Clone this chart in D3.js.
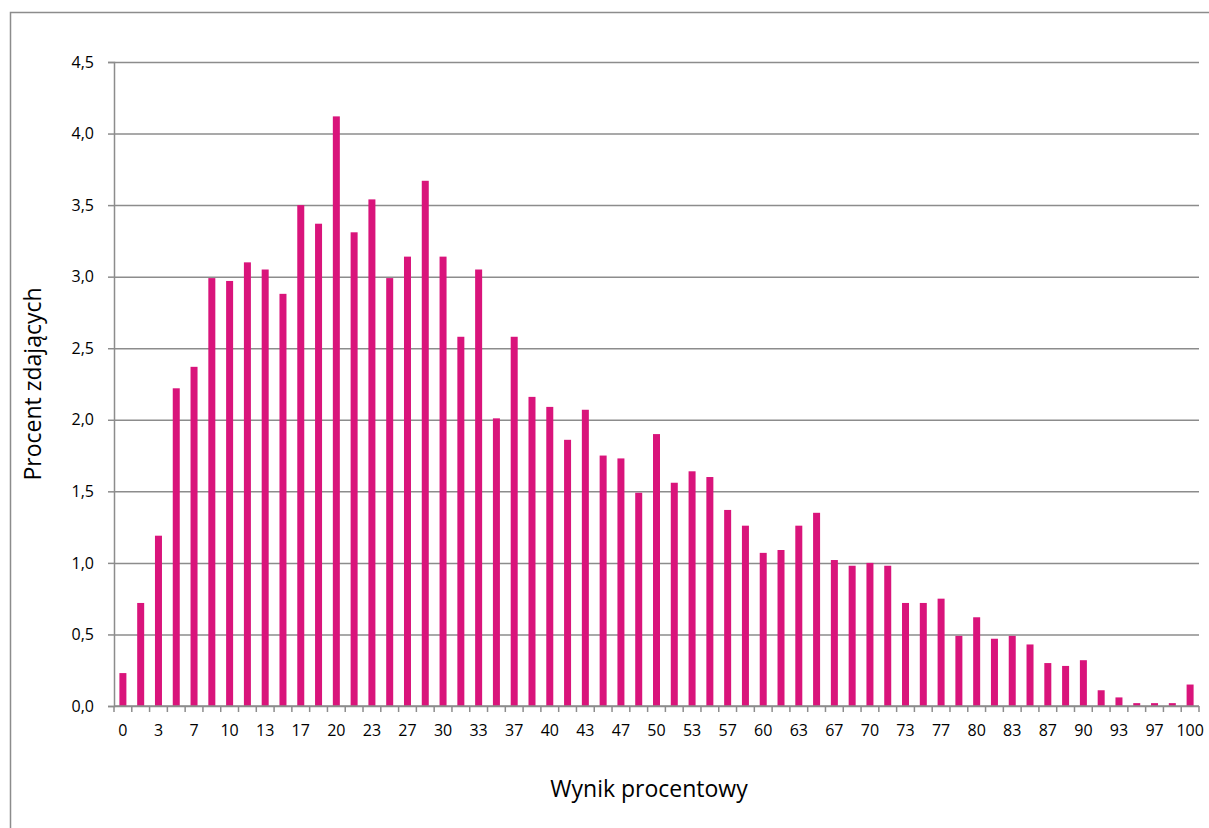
<!DOCTYPE html>
<html>
<head>
<meta charset="utf-8">
<script src="https://cdn.jsdelivr.net/npm/d3@7"></script>
<style>
  body { margin: 0; background: #fff; }
  text { font-family: "Open Sans", "Noto Sans", sans-serif; fill: #000; }
</style>
</head>
<body>
<div id="chart"></div>
<script>
// wyniki: 0..60 punktow przeliczone na procenty
var scores = d3.range(61).map(function(i) { return Math.round(i * 100 / 60); });
var percents = [0.23, 0.72, 1.19, 2.22, 2.37, 2.99, 2.97, 3.10, 3.05, 2.88,
                3.50, 3.37, 4.12, 3.31, 3.54, 2.99, 3.14, 3.67, 3.14, 2.58,
                3.05, 2.01, 2.58, 2.16, 2.09, 1.86, 2.07, 1.75, 1.73, 1.49,
                1.90, 1.56, 1.64, 1.60, 1.37, 1.26, 1.07, 1.09, 1.26, 1.35,
                1.02, 0.98, 1.00, 0.98, 0.72, 0.72, 0.75, 0.49, 0.62, 0.47,
                0.49, 0.43, 0.30, 0.28, 0.32, 0.11, 0.06, 0.02, 0.02, 0.02,
                0.15];
var yTicks = [0, 0.5, 1, 1.5, 2, 2.5, 3, 3.5, 4, 4.5];

var data = scores.map(function(s, i) { return {idx: i, label: s, val: percents[i]}; });

var w = 1209, h = 828;
var pLeft = 114, pRight = 1199, pTop = 62, pBottom = 706;
var gridColor = "#8c8c8c";

var svg = d3.select("#chart").append("svg")
    .attr("width", w)
    .attr("height", h);

// ramka wykresu
svg.append("rect")
    .attr("x", 10.5).attr("y", 12.5)
    .attr("width", w).attr("height", h)
    .attr("fill", "none")
    .attr("stroke", gridColor)
    .attr("stroke-width", 1.5);

var xBand = d3.scaleBand()
    .domain(data.map(function(d) { return d.idx; }))
    .range([pLeft, pRight]);

var yScale = d3.scaleLinear()
    .domain([0, 4.5])
    .range([pBottom, pTop]);

// gridlines
svg.append("g")
    .attr("class", "grid")
    .attr("transform", "translate(" + pLeft + ",0)")
    .call(d3.axisLeft(yScale).tickValues(yTicks).tickSize(-(pRight - pLeft)).tickFormat(""))
    .call(function(g) {
        g.select(".domain").remove();
        g.selectAll("line").attr("stroke", gridColor).attr("stroke-width", 1.5);
    });

// y axis
svg.append("g")
    .attr("transform", "translate(" + pLeft + ",0)")
    .call(d3.axisLeft(yScale).tickValues(yTicks).tickSize(6).tickPadding(14)
        .tickFormat(function(d) { return d3.format(".1f")(d).replace(".", ","); }))
    .call(function(g) {
        g.select(".domain").attr("stroke", gridColor).attr("stroke-width", 1.5);
        g.selectAll("line").attr("stroke", gridColor).attr("stroke-width", 1.5);
        g.selectAll("text")
            .attr("font-size", "16px")
            .attr("font-family", "Open Sans, sans-serif")
            .attr("fill", "#000");
    });

// bars
var barW = 7;
svg.selectAll("rect.bar")
    .data(data)
    .enter()
    .append("rect")
    .attr("class", "bar")
    .attr("x", function(d) { return xBand(d.idx) + (xBand.bandwidth() - barW) / 2; })
    .attr("y", function(d) { return yScale(d.val); })
    .attr("width", barW)
    .attr("height", function(d) { return pBottom - yScale(d.val); })
    .attr("fill", "#d9147b");

// x axis: ticks at category boundaries
var xg = svg.append("g").attr("transform", "translate(0," + pBottom + ")");
xg.append("line")
    .attr("x1", pLeft).attr("x2", pRight)
    .attr("stroke", gridColor).attr("stroke-width", 1.5);
var bounds = data.map(function(d) { return xBand(d.idx); }).concat([pRight]);
xg.selectAll("line.tick")
    .data(bounds)
    .enter()
    .append("line")
    .attr("class", "tick")
    .attr("x1", function(d) { return d; }).attr("x2", function(d) { return d; })
    .attr("y1", 0).attr("y2", 6)
    .attr("stroke", gridColor).attr("stroke-width", 1.5);
xg.selectAll("text")
    .data(data.filter(function(d) { return d.idx % 2 === 0; }))
    .enter()
    .append("text")
    .attr("x", function(d) { return xBand(d.idx) + xBand.bandwidth() / 2; })
    .attr("y", 30)
    .attr("text-anchor", "middle")
    .attr("font-size", "16px")
    .text(function(d) { return d.label; });

// axis titles
svg.append("text")
    .attr("x", 649).attr("y", 797)
    .attr("text-anchor", "middle")
    .attr("font-size", "23px")
    .text("Wynik procentowy");

svg.append("text")
    .attr("transform", "translate(41,384) rotate(-90)")
    .attr("text-anchor", "middle")
    .attr("font-size", "23px")
    .text("Procent zdających");
</script>
</body>
</html>
